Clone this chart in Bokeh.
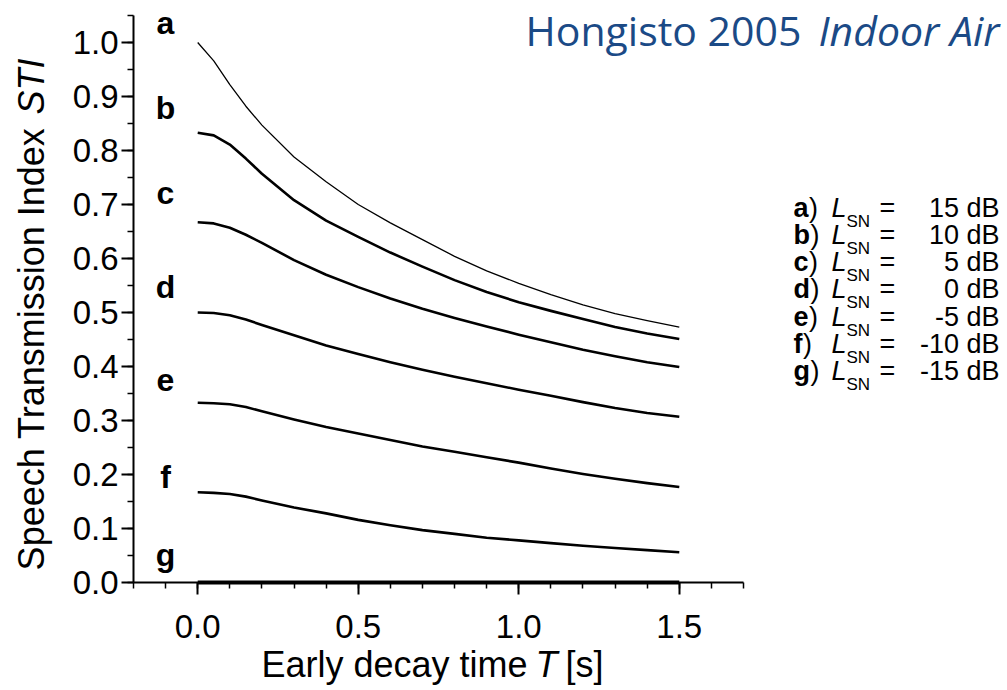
from math import pi
from bokeh.plotting import figure
from bokeh.models import FixedTicker, PrintfTickFormatter, LabelSet, ColumnDataSource, Range1d
from bokeh.core.properties import value
from bokeh.embed import file_html
from bokeh.resources import INLINE

# ---------------- data ----------------
T = [0.0, 0.05, 0.1, 0.15, 0.2, 0.3, 0.4, 0.5, 0.6, 0.7, 0.8, 0.9, 1.0, 1.1, 1.2, 1.3, 1.4, 1.5]
STI_A = [1.000, 0.966, 0.922, 0.882, 0.847, 0.788, 0.742, 0.700, 0.666, 0.635, 0.604, 0.577, 0.554, 0.533, 0.514, 0.498, 0.485, 0.473]
STI_B = [0.833, 0.828, 0.811, 0.785, 0.757, 0.708, 0.670, 0.640, 0.611, 0.585, 0.560, 0.538, 0.519, 0.503, 0.488, 0.473, 0.461, 0.451]
STI_C = [0.667, 0.665, 0.657, 0.644, 0.629, 0.597, 0.570, 0.547, 0.526, 0.507, 0.490, 0.474, 0.459, 0.445, 0.431, 0.419, 0.408, 0.399]
STI_D = [0.500, 0.499, 0.495, 0.487, 0.477, 0.458, 0.439, 0.423, 0.408, 0.394, 0.381, 0.369, 0.357, 0.346, 0.334, 0.323, 0.314, 0.307]
STI_E = [0.333, 0.332, 0.330, 0.325, 0.317, 0.302, 0.288, 0.276, 0.264, 0.252, 0.242, 0.232, 0.222, 0.211, 0.201, 0.192, 0.184, 0.177]
STI_F = [0.167, 0.166, 0.164, 0.159, 0.152, 0.139, 0.128, 0.116, 0.106, 0.097, 0.090, 0.083, 0.078, 0.073, 0.068, 0.064, 0.060, 0.056]
STI_G = [0.000, 0.000, 0.000, 0.000, 0.000, 0.000, 0.000, 0.000, 0.000, 0.000, 0.000, 0.000, 0.000, 0.000, 0.000, 0.000, 0.000, 0.000]
SERIES = ["a", "b", "c", "d", "e", "f", "g"]
L_SN = ["15 dB", "10 dB", "5 dB", "0 dB", "-5 dB", "-10 dB", "-15 dB"]
X_TICKS = [0.0, 0.5, 1.0, 1.5]
Y_TICKS = [0.0, 0.1, 0.2, 0.3, 0.4, 0.5, 0.6, 0.7, 0.8, 0.9, 1.0]
TITLE_MAIN = "Hongisto 2005"
TITLE_ITALIC = "Indoor Air"
X_TITLE = ["Early decay time", "T", "[s]"]
Y_TITLE = ["Speech Transmission Index", "STI"]

# ---------------- layout ----------------
W, H = 1007, 690
# pixel box of the axes (x: -0.2..1.7, y: 0..1.05)
FL, FR, FT, FB = 133, 743, 15, 582
AX_X = (-0.2, 1.7)
AX_Y = (0.0, 1.05)
FONT = "Liberation Sans"
TITLE_FONT = "Open Sans"
BLUE = "#1b4a86"


def X(px):
    return AX_X[0] + (px - FL) * (AX_X[1] - AX_X[0]) / (FR - FL)


def Y(py):
    return AX_Y[1] - (py - FT) * (AX_Y[1] - AX_Y[0]) / (FB - FT)


p = figure(width=W, height=H, x_range=Range1d(X(0), X(W)), y_range=Range1d(Y(H), Y(0)),
           output_backend="svg", toolbar_location=None, title=None,
           min_border_left=0, min_border_right=0, min_border_top=0, min_border_bottom=0)
p.xgrid.visible = False
p.ygrid.visible = False
p.outline_line_color = None
p.background_fill_color = "white"
p.border_fill_color = "white"


def txt(texts, pxs, pys, size, style="normal", align="left", angle=0.0,
        color="black", font=FONT):
    src = ColumnDataSource(dict(t=list(texts), x=[X(v) for v in pxs], y=[Y(v) for v in pys]))
    p.add_layout(LabelSet(x="x", y="y", text="t", source=src, angle=angle,
                          text_font=value(font), text_font_style=style,
                          text_font_size=f"{size}px", text_align=align,
                          text_baseline="alphabetic", text_color=color))


for ax in (p.xaxis[0], p.yaxis[0]):
    ax.axis_line_width = 2
    ax.axis_line_color = "black"
    ax.major_tick_line_width = 2
    ax.minor_tick_line_width = 1.5
    ax.major_tick_line_color = "black"
    ax.minor_tick_line_color = "black"
    ax.major_tick_in = 0
    ax.major_tick_out = 12
    ax.minor_tick_in = 0
    ax.minor_tick_out = 6
    ax.major_label_text_font = FONT
    ax.major_label_text_font_size = "33px"
    ax.major_label_text_color = "black"
    ax.formatter = PrintfTickFormatter(format="%.1f")

p.xaxis.fixed_location = AX_Y[0]
p.xaxis.bounds = AX_X
p.yaxis.fixed_location = AX_X[0]
p.yaxis.bounds = AX_Y
p.xaxis.ticker = FixedTicker(ticks=X_TICKS,
                             minor_ticks=[round(-0.2 + 0.1 * i, 2) for i in range(20)])
p.yaxis.ticker = FixedTicker(ticks=Y_TICKS,
                             minor_ticks=[round(0.05 * i, 2) for i in range(22)])
p.xaxis.major_label_standoff = 20
p.yaxis.major_label_standoff = 3

# ---------------- curves ----------------
curves = [STI_A, STI_B, STI_C, STI_D, STI_E, STI_F, STI_G]
widths = [1.3, 2.6, 2.6, 2.6, 2.6, 2.6, 4.0]
for ys, w in zip(curves, widths):
    p.line(T, ys, line_color="black", line_width=w, line_join="round", line_cap="butt")

# ---------------- curve letters ----------------
letter_px_y = [33, 118, 203, 297, 390, 487, 565]
txt(SERIES, [165] * 7, letter_px_y, 32, style="bold", align="center")

# ---------------- axis titles ----------------
txt([X_TITLE[0]], [527], [676], 36, align="right")
txt([X_TITLE[1]], [535], [676], 36, style="italic")
txt([X_TITLE[2]], [565], [676], 36)
txt([Y_TITLE[0]], [43], [127], 36, align="right", angle=pi / 2)
txt([Y_TITLE[1]], [43], [114], 36, style="italic", angle=pi / 2)

# ---------------- title ----------------
txt([TITLE_MAIN], [525], [45], 41, color=BLUE, font=TITLE_FONT)
txt([TITLE_ITALIC], [818], [45], 41, style="italic", color=BLUE, font=TITLE_FONT)

# ---------------- legend text ----------------
row_px = [216 + 27.3 * i for i in range(7)]
bold_w = {"a": 0.556, "b": 0.611, "c": 0.556, "d": 0.611, "e": 0.556, "f": 0.333, "g": 0.611}
LFS = 27
txt(SERIES, [793] * 7, row_px, LFS, style="bold")
txt([")"] * 7, [793 + bold_w[s] * LFS + 0.5 for s in SERIES], row_px, LFS)
txt(["L"] * 7, [831] * 7, row_px, LFS, style="italic")
txt(["SN"] * 7, [846] * 7, [v + 10 for v in row_px], 17)
txt(["="] * 7, [879] * 7, row_px, LFS)
txt(L_SN, [999] * 7, row_px, LFS, align="right")

open("out.html", "w").write(file_html(p, INLINE))
